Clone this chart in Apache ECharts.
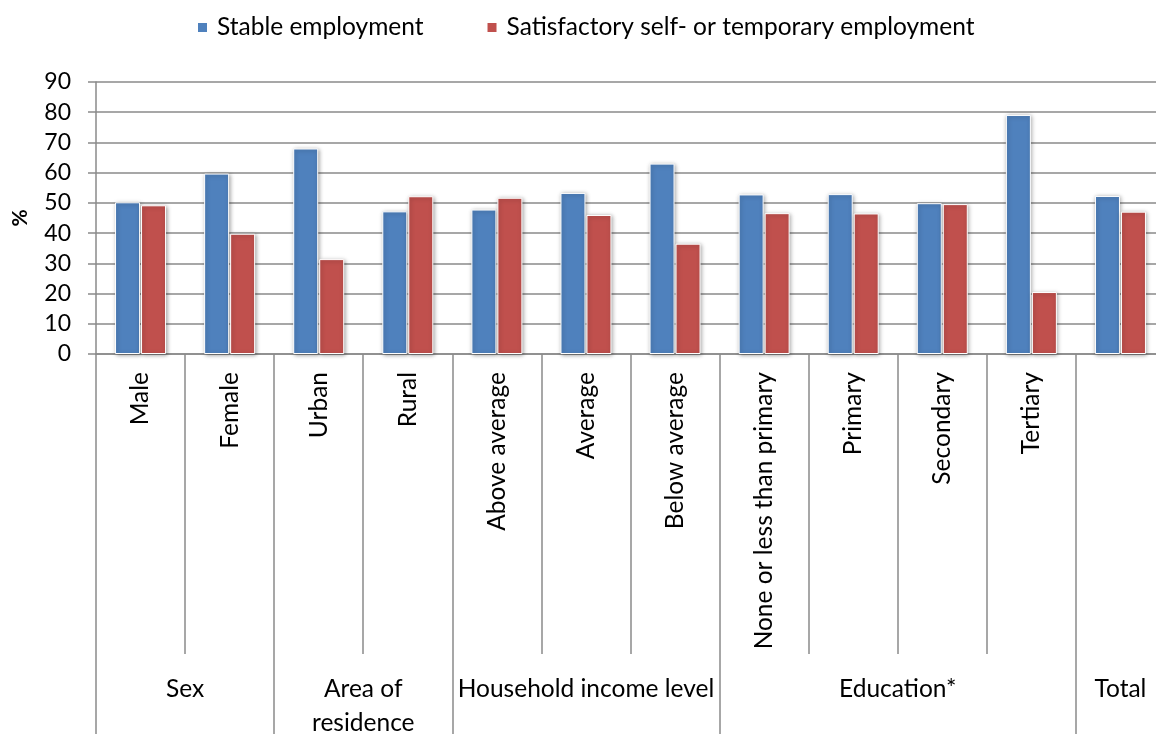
<!DOCTYPE html>
<html>
<head>
<meta charset="utf-8">
<script src="https://cdn.jsdelivr.net/npm/echarts@6/dist/echarts.min.js"></script>
<style>
  html, body { margin: 0; padding: 0; background: #ffffff; }
  #chart { width: 1156px; height: 734px; }
</style>
</head>
<body>
<div id="chart"></div>
<script>
// Categories along the x axis (the last one, Total, has no rotated label)
const categories = ['Male', 'Female', 'Urban', 'Rural', 'Above average', 'Average', 'Below average',
  'None or less than primary', 'Primary', 'Secondary', 'Tertiary', ''];
// Grouping row beneath the categories
const groupNames = ['Sex', 'Area of\nresidence', 'Household income level', 'Education*', 'Total'];
const groupSizes = [2, 2, 3, 4, 1];
// Series values (%)
const seriesNames = ['Stable employment', 'Satisfactory self- or temporary employment'];
const stable = [50.2, 59.7, 68.0, 47.2, 47.8, 53.3, 63.0, 52.8, 52.9, 49.9, 79.1, 52.3];
const satisfactory = [49.2, 39.8, 31.4, 52.2, 51.7, 46.0, 36.5, 46.6, 46.5, 49.6, 20.5, 47.1];
// Value axis range
const yMin = 0, yMax = 90, yStep = 10;

const FONT = 'Lato';
const GRID_GREY = '#8a8a8a';

// The group row uses a half-band axis: point k sits at k/2 category widths from the left edge,
// so group centres and group boundaries both fall on points.
const halfSlots = categories.length * 2 + 1;
const groupRow = new Array(halfSlots).fill('');
const groupBoundaries = new Set();
let start = 0;
groupSizes.forEach((size, i) => {
  groupBoundaries.add(start * 2);
  groupRow[start * 2 + size] = groupNames[i];
  start += size;
});
groupBoundaries.add(start * 2);

const chart = echarts.init(document.getElementById('chart'), null, { renderer: 'canvas' });

const barStyle = (color) => ({
  color: color,
  borderColor: '#ffffff',
  borderWidth: 1,
  shadowColor: 'rgba(0,0,0,0.35)',
  shadowBlur: 4,
  shadowOffsetX: 1,
  shadowOffsetY: 1
});

chart.setOption({
  backgroundColor: '#ffffff',
  animation: false,
  textStyle: { fontFamily: FONT, color: '#000000' },
  legend: {
    top: 10,
    left: 191,
    itemWidth: 11,
    itemHeight: 11,
    itemGap: 62,
    icon: 'rect',
    textStyle: { fontFamily: FONT, fontSize: 24.5, color: '#000000', padding: [0, 0, 0, 4] },
    data: seriesNames
  },
  grid: { left: 96, right: -9, top: 82, bottom: 380, containLabel: false, outerBoundsMode: 'none' },
  xAxis: [
    {
      type: 'category',
      data: categories,
      position: 'bottom',
      axisLine: { show: true, lineStyle: { color: GRID_GREY, width: 1.5 } },
      axisTick: { show: true, length: 300, lineStyle: { color: GRID_GREY, width: 1.5 } },
      axisLabel: {
        rotate: 90,
        margin: 18,
        fontFamily: FONT,
        fontSize: 24.5,
        color: '#000000',
        interval: 0
      }
    },
    {
      type: 'category',
      data: groupRow,
      boundaryGap: false,
      position: 'bottom',
      axisLine: { show: false },
      axisTick: {
        show: true,
        length: 380,
        interval: (idx) => groupBoundaries.has(idx),
        lineStyle: { color: GRID_GREY, width: 1.5 }
      },
      axisLabel: {
        interval: (idx, val) => val !== '',
        margin: 318,
        fontFamily: FONT,
        fontSize: 24.5,
        lineHeight: 34,
        color: '#000000',
        align: 'center'
      }
    }
  ],
  yAxis: {
    type: 'value',
    min: yMin,
    max: yMax,
    interval: yStep,
    name: '%',
    nameLocation: 'middle',
    nameGap: 65,
    nameMoveOverlap: false,
    nameRotate: 90,
    nameTextStyle: { fontFamily: FONT, fontSize: 21, fontWeight: 'bold', color: '#000000' },
    axisLine: { show: true, lineStyle: { color: GRID_GREY, width: 1.5 } },
    axisTick: { show: true, length: 8, lineStyle: { color: GRID_GREY, width: 1.5 } },
    axisLabel: { margin: 25, fontFamily: FONT, fontSize: 23, color: '#000000' },
    splitLine: { show: true, lineStyle: { color: GRID_GREY, width: 1.5 } }
  },
  series: [
    {
      name: seriesNames[0],
      type: 'bar',
      xAxisIndex: 0,
      data: stable,
      barWidth: 25,
      barGap: '4%',
      itemStyle: barStyle('#4f81bd')
    },
    {
      name: seriesNames[1],
      type: 'bar',
      xAxisIndex: 0,
      data: satisfactory,
      barWidth: 25,
      barGap: '4%',
      itemStyle: barStyle('#c0504d')
    }
  ]
});
</script>
</body>
</html>
